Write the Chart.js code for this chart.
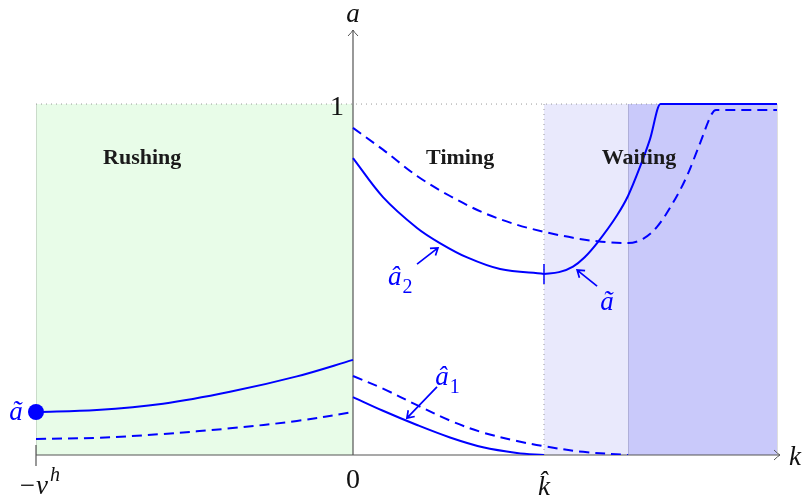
<!DOCTYPE html>
<html>
<head>
<meta charset="utf-8">
<script src="https://cdn.jsdelivr.net/npm/chart.js@4.4.1/dist/chart.umd.min.js"></script>
<style>
  html, body { margin: 0; padding: 0; background: #fff; }
  #wrap { width: 803px; height: 502px; }
</style>
</head>
<body>
<div id="wrap"><canvas id="c" width="803" height="502"></canvas></div>
<script>
// k axis: -v^h = -1, k-hat and the waiting threshold
const K_VH = -1;
const K_HAT = 0.6025;
const K_WAIT = 0.8675;
const K_END = 1.3375;

// Rushing region (k < 0)
const rushSolidX = [-1, -0.808, -0.599, -0.388, -0.177, 0];
const rushSolidY = [0.1225, 0.128, 0.146, 0.180, 0.224, 0.271];
const rushDashX = [-1, -0.808, -0.599, -0.388, -0.177, 0];
const rushDashY = [0.0456, 0.049, 0.060, 0.076, 0.097, 0.1225];

// a-hat_2 (solid, timing) then a-tilde rising to 1
const a2X = [0, 0.0946, 0.202, 0.274, 0.360, 0.464, K_HAT];
const a2Y = [0.846, 0.735, 0.647, 0.604, 0.563, 0.530, 0.516];
const aTildeX = [K_HAT, 0.650, 0.694, 0.730, 0.770, 0.833, 0.8675, 0.905, 0.937, 0.970, 1.3375];
const aTildeY = [0.516, 0.521, 0.537, 0.563, 0.604, 0.683, 0.738, 0.820, 0.900, 1.0, 1.0];

// dashed upper curve
const upDashX = [0, 0.0946, 0.202, 0.306, 0.410, 0.517, K_HAT, 0.694, 0.770, 0.8675, 0.915, 0.959, 1.009, 1.054, 1.095, 1.132, 1.145, 1.3375];
const upDashY = [0.932, 0.870, 0.795, 0.738, 0.691, 0.656, 0.636, 0.619, 0.609, 0.604, 0.616, 0.650, 0.718, 0.796, 0.889, 0.972, 0.983, 0.983];

// a-hat_1 (solid) and dashed lower curve
const a1X = [0, 0.0946, 0.202, 0.306, 0.410, 0.517, K_HAT];
const a1Y = [0.165, 0.126, 0.0855, 0.050, 0.022, 0.006, 0.0];
const lowDashX = [0, 0.0946, 0.202, 0.306, 0.410, 0.517, K_HAT, 0.726, 0.8675];
const lowDashY = [0.225, 0.189, 0.142, 0.098, 0.064, 0.040, 0.025, 0.009, 0.0];

const xTickVals = [K_VH, 0, K_HAT];
const yTickVals = [1];

const BLUE = "rgb(0,0,255)";
const pts = (xs, ys) => xs.map((x, i) => ({ x, y: ys[i] }));

// smooth curves use bezier tension, curves with a kink (cap at 1) use monotone
function curve(label, xs, ys, dashed, kinked) {
  return {
    label, data: pts(xs, ys), borderColor: BLUE, borderWidth: 2,
    borderDash: dashed ? [10, 6] : [], pointRadius: 0, fill: false,
    cubicInterpolationMode: kinked ? "monotone" : "default",
    tension: kinked ? 0 : 0.35, order: 1
  };
}
function band(label, x0, x1, color) {
  return {
    label, data: [{ x: x0, y: 1 }, { x: x1, y: 1 }], borderWidth: 0,
    pointRadius: 0, backgroundColor: color, fill: "origin", order: 10
  };
}
function dotted(label, data) {
  return {
    label, data, borderColor: "#9a9a9a", borderWidth: 1, borderDash: [1, 4],
    pointRadius: 0, fill: false, order: 5
  };
}

function drawArrow(ctx, x0, y0, x1, y1, color) {
  const ang = Math.atan2(y1 - y0, x1 - x0);
  const L = 8;
  ctx.save();
  ctx.strokeStyle = color;
  ctx.lineWidth = 1.7;
  ctx.beginPath();
  ctx.moveTo(x0, y0); ctx.lineTo(x1, y1);
  ctx.moveTo(x1 - L * Math.cos(ang - 0.6), y1 - L * Math.sin(ang - 0.6));
  ctx.lineTo(x1, y1);
  ctx.lineTo(x1 - L * Math.cos(ang + 0.6), y1 - L * Math.sin(ang + 0.6));
  ctx.stroke();
  ctx.restore();
}

// symbol with optional subscript/superscript, centred at x on the main glyph
function mathText(ctx, main, x, y, color, sub, sup) {
  ctx.save();
  ctx.fillStyle = color;
  ctx.font = 'italic 27px "Liberation Serif"';
  ctx.textBaseline = "alphabetic";
  ctx.textAlign = "center";
  ctx.fillText(main, x, y);
  const w = ctx.measureText(main).width;
  ctx.textAlign = "left";
  if (sub) {
    ctx.font = '20px "Liberation Serif"';
    ctx.fillText(sub, x + w / 2 + 1, y + 8);
  }
  if (sup) {
    ctx.font = 'italic 20px "Liberation Serif"';
    ctx.fillText(sup, x + w / 2 + 2, y - 13);
  }
  ctx.restore();
}

const axesPlugin = {
  id: "axes",
  afterDatasetDraw(chart, args) {
    if (args.meta.label !== "khatLine") return;
    const ctx = chart.ctx;
    const xs = chart.scales.x, ys = chart.scales.y;
    const x0 = xs.getPixelForValue(K_VH), xO = xs.getPixelForValue(0);
    const yO = ys.getPixelForValue(0), y1 = ys.getPixelForValue(1);
    const right = chart.chartArea.right, top = chart.chartArea.top;
    ctx.save();
    // faint region edges
    ctx.strokeStyle = "rgba(0,0,0,0.13)";
    ctx.lineWidth = 1;
    ctx.beginPath();
    [K_VH, K_WAIT, K_END].forEach(k => {
      const x = Math.round(xs.getPixelForValue(k)) + 0.5;
      ctx.moveTo(x, y1); ctx.lineTo(x, yO);
    });
    ctx.stroke();
    ctx.strokeStyle = "#555";
    ctx.lineWidth = 1.2;
    ctx.beginPath();
    ctx.moveTo(x0, yO); ctx.lineTo(right, yO);
    ctx.moveTo(xO, yO); ctx.lineTo(xO, top);
    ctx.moveTo(x0, yO - 10); ctx.lineTo(x0, yO + 11);
    ctx.stroke();
    ctx.lineWidth = 1;
    ctx.beginPath();
    ctx.moveTo(right - 6, yO - 5); ctx.quadraticCurveTo(right - 2, yO - 1, right, yO);
    ctx.quadraticCurveTo(right - 2, yO + 1, right - 6, yO + 5);
    ctx.moveTo(xO - 5, top + 6); ctx.quadraticCurveTo(xO - 1, top + 2, xO, top);
    ctx.quadraticCurveTo(xO + 1, top + 2, xO + 5, top + 6);
    ctx.stroke();
    ctx.restore();
  },
  afterDatasetsDraw(chart) {
    const ctx = chart.ctx;
    const xs = chart.scales.x, ys = chart.scales.y;
    const px = v => xs.getPixelForValue(v), py = v => ys.getPixelForValue(v);
    const yO = py(0);

    // axis names and tick labels
    mathText(ctx, "a", px(0), 22, "#111");
    mathText(ctx, "k", 795, yO + 10, "#111");
    ctx.save();
    ctx.fillStyle = "#111";
    ctx.font = '28px "Liberation Serif"';
    ctx.textAlign = "right";
    ctx.fillText(yTickVals[0].toString(), px(0) - 9, py(1) + 11);
    ctx.textAlign = "center";
    ctx.fillText("0", px(xTickVals[1]), yO + 33);
    ctx.restore();
    mathText(ctx, "\u2212v", px(xTickVals[0]) - 3, yO + 39, "#111", null, "h");
    mathText(ctx, "k\u0302", px(xTickVals[2]), yO + 40, "#111");

    // k-hat tick on the curve
    ctx.save();
    ctx.strokeStyle = BLUE; ctx.lineWidth = 1.5;
    ctx.beginPath();
    ctx.moveTo(px(K_HAT), py(a2Y[a2Y.length - 1]) - 10);
    ctx.lineTo(px(K_HAT), py(a2Y[a2Y.length - 1]) + 10);
    ctx.stroke();
    ctx.restore();

    // region names
    ctx.save();
    ctx.fillStyle = "#1a1a1a";
    ctx.font = 'bold 22px "Liberation Serif"';
    ctx.textAlign = "center"; ctx.textBaseline = "alphabetic";
    ctx.fillText("Rushing", px(-0.665), py(0.829));
    ctx.fillText("Timing", px(0.338), py(0.829));
    ctx.fillText("Waiting", px(0.902), py(0.829));
    ctx.restore();

    // curve labels and arrows
    mathText(ctx, "\u00e3", px(-1.063), py(0.100), BLUE);
    mathText(ctx, "\u00e2", px(0.132), py(0.484), BLUE, "2");
    drawArrow(ctx, px(0.202), py(0.544), px(0.268), py(0.590), BLUE);
    mathText(ctx, "\u00e3", px(0.801), py(0.413), BLUE);
    drawArrow(ctx, px(0.770), py(0.481), px(0.707), py(0.527), BLUE);
    mathText(ctx, "\u00e2", px(0.281), py(0.199), BLUE, "1");
    drawArrow(ctx, px(0.265), py(0.194), px(0.170), py(0.105), BLUE);
  }
};

new Chart(document.getElementById("c"), {
  type: "line",
  data: {
    datasets: [
      band("rushing", K_VH, 0, "rgb(232,252,232)"),
      band("waitLight", K_HAT, K_WAIT, "rgb(233,233,252)"),
      band("waitDark", K_WAIT, K_END, "rgb(201,201,250)"),
      dotted("oneLine", [{ x: K_VH, y: 1 }, { x: K_END, y: 1 }]),
      dotted("khatLine", [{ x: K_HAT, y: 0 }, { x: K_HAT, y: 1 }]),
      curve("rushSolid", rushSolidX, rushSolidY, false, false),
      curve("rushDash", rushDashX, rushDashY, true, false),
      curve("a2", a2X, a2Y, false, false),
      curve("aTilde", aTildeX, aTildeY, false, true),
      curve("upDash", upDashX, upDashY, true, true),
      curve("a1", a1X, a1Y, false, false),
      curve("lowDash", lowDashX, lowDashY, true, false),
      {
        label: "dot", data: [{ x: rushSolidX[0], y: rushSolidY[0] }],
        showLine: false, pointRadius: 8, pointBackgroundColor: BLUE,
        pointBorderWidth: 0, clip: false, order: 0
      }
    ]
  },
  options: {
    responsive: false,
    animation: false,
    devicePixelRatio: 1,
    layout: { padding: { left: 36, right: 23, top: 30, bottom: 47 } },
    plugins: { legend: { display: false }, tooltip: { enabled: false } },
    scales: {
      x: { type: "linear", min: -1, max: 1.347, display: false },
      y: { type: "linear", min: 0, max: 1.211, display: false }
    }
  },
  plugins: [axesPlugin]
});
</script>
</body>
</html>
